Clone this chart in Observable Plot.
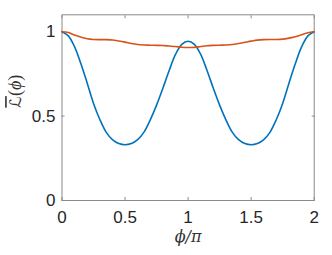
<!DOCTYPE html>
<html><head><meta charset="utf-8">
<script src="https://cdn.jsdelivr.net/npm/d3@7"></script>
<script src="https://cdn.jsdelivr.net/npm/@observablehq/plot@0.6"></script>
<style>html,body{margin:0;padding:0;background:#fff}svg{display:block}</style>
</head><body><div id="chart"></div>
<script>
// phi / pi sample positions
const phiOverPi = [0,0.05,0.1,0.15,0.2,0.25,0.3,0.35,0.4,0.45,0.5,0.55,0.6,0.65,0.7,0.75,0.8,0.85,0.9,0.95,1,
  1.05,1.1,1.15,1.2,1.25,1.3,1.35,1.4,1.45,1.5,1.55,1.6,1.65,1.7,1.75,1.8,1.85,1.9,1.95,2];
// blue series
const blueSeries = [1.0,0.975,0.91,0.81,0.695,0.575,0.48,0.405,0.36,0.337,0.33,0.337,0.36,0.405,0.478,0.565,0.665,0.77,0.865,0.925,0.943,
  0.925,0.865,0.77,0.665,0.565,0.478,0.405,0.36,0.337,0.33,0.337,0.36,0.405,0.48,0.575,0.695,0.81,0.91,0.975,1.0];
// orange series
const orangeSeries = [1.0,0.995,0.98,0.968,0.958,0.954,0.953,0.953,0.951,0.945,0.938,0.93,0.924,0.921,0.92,0.919,0.918,0.915,0.912,0.908,0.906,
  0.907,0.912,0.917,0.919,0.92,0.921,0.924,0.93,0.937,0.944,0.95,0.953,0.954,0.954,0.956,0.962,0.97,0.982,0.994,1.0];
const xTicks = [0,0.5,1,1.5,2];
const xTickLabels = ["0","0.5","1","1.5","2"];
const yTicks = [0,0.5,1];
const yTickLabels = ["0","0.5","1"];
const xLabel = "ϕ/π";
const yLabel = "ℒ(ϕ)";

const blueRows = phiOverPi.map((p,i)=>({p, v: blueSeries[i]}));
const orangeRows = phiOverPi.map((p,i)=>({p, v: orangeSeries[i]}));

const axisColor = "#8a8a8a";
const textColor = "#262626";

const chart = Plot.plot({
  width: 332, height: 255,
  marginLeft: 61.5, marginRight: 18.3, marginTop: 14.3, marginBottom: 55,
  x: {domain: [0, 2]},
  y: {domain: [0, 1.1]},
  style: {fontFamily: "'Liberation Sans', Arial, sans-serif", fontSize: "17px", color: textColor, background: "#fff", overflow: "visible"},
  marks: [
    Plot.frame({stroke: axisColor, strokeWidth: 1}),
    Plot.axisX({ticks: xTicks, tickFormat: (d)=>xTickLabels[xTicks.indexOf(d)], tickSize: -3, tickPadding: 13, stroke: axisColor, fill: textColor, label: null, fontSize: 17}),
    Plot.axisX({anchor: "top", ticks: xTicks, tickFormat: () => "", tickSize: -3, stroke: axisColor, label: null}),
    Plot.axisY({ticks: yTicks, tickFormat: (d)=>yTickLabels[yTicks.indexOf(d)], tickSize: -3, tickPadding: 9.5, stroke: axisColor, fill: textColor, label: null, fontSize: 17}),
    Plot.axisY({anchor: "right", ticks: yTicks, tickFormat: () => "", tickSize: -3, stroke: axisColor, label: null}),
    Plot.line(blueRows, {x: "p", y: "v", stroke: "#0072BD", strokeWidth: 1.6, curve: "catmull-rom"}),
    Plot.line(orangeRows, {x: "p", y: "v", stroke: "#D95319", strokeWidth: 1.6, curve: "catmull-rom"}),
    Plot.text([xLabel], {frameAnchor: "bottom", dy: 41, text: d => d, fontFamily: "'DejaVu Serif', serif", fontStyle: "italic", fontSize: 16, fill: "#333", className: "xlab"}),
    Plot.text([yLabel], {frameAnchor: "left", dx: -46, rotate: -90, text: d => d, fontFamily: "'DejaVu Sans', sans-serif", fontSize: 16, fill: "#333", className: "ylab"})
  ]
});
document.getElementById("chart").appendChild(chart);

// style y label: overline on script L, italic phi
d3.select(chart).selectAll("g.ylab text").each(function(){
  const t = d3.select(this);
  const s = t.text();
  t.text(null);
  t.append("tspan").style("text-decoration","overline").text(s[0]);
  t.append("tspan").attr("font-family","'Liberation Serif', serif").attr("font-size",18).text("(");
  t.append("tspan").attr("font-family","'Liberation Serif', serif").attr("font-size",18).attr("font-style","italic").text(s.slice(2, s.length-1));
  t.append("tspan").attr("font-family","'Liberation Serif', serif").attr("font-size",18).text(")");
});
</script>
</body></html>
